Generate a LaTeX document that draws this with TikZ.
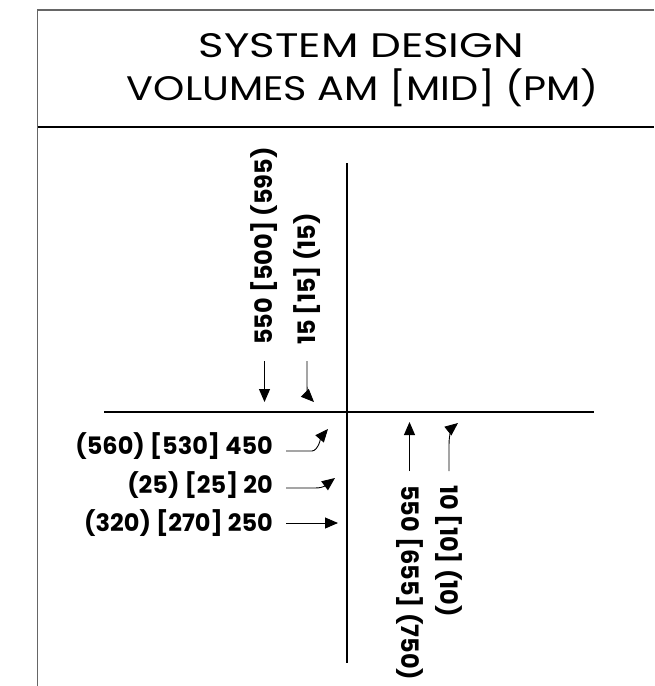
\documentclass[tikz,border=0pt]{standalone}
\usepackage{fontspec}
\setmainfont{Poppins}[Numbers=Monospaced]
\usetikzlibrary{arrows.meta, positioning}
\tikzset{
  frame/.style={draw=black!60, line width=1.3pt},
  road/.style={draw=black, line width=1.2pt},
  title/.style={font=\fontsize{34}{42}\selectfont, inner sep=0pt, anchor=base},
  vol/.style={font=\fontsize{24}{26}\selectfont\bfseries, inner sep=0pt},
  arrow/.style={-{Triangle[length=13pt, width=11pt]}, line width=0.9pt},
}

\begin{document}
\begin{tikzpicture}[x=1pt, y=-1pt]
  \useasboundingbox (0,0) rectangle (654,686);
  \draw[frame] (37.7,686) -- (37.7,10) -- (654,10);
  \draw[road] (37.7,127) -- (654,127);
  \node[title] (ttl1) at (361.5,57)  {\resizebox{325pt}{\height}{SYSTEM DESIGN}};
  \node[title] (ttl2) at (363,100)   {\resizebox{472pt}{\height}{VOLUMES AM [MID] (PM)}};

  % roads
  \coordinate (ew_w) at (104,412);
  \coordinate (ew_e) at (594,412);
  \coordinate (ns_n) at (347,163);
  \coordinate (ns_s) at (347,663);
  \draw[road] (ew_w) -- (ew_e);
  \draw[road] (ns_n) -- (ns_s);

  % volumes
  \node[vol, anchor=east] (wb1) at (273,446) {(560) [530] 450};
  \node[vol, anchor=east] (wb2) at (273,485) {(25) [25] 20};
  \node[vol, anchor=east] (wb3) at (273,523) {(320) [270] 250};
  \node[vol, rotate=90, anchor=west]  (sb1) at (264.5,345) {550 [500] (595)};
  \node[vol, rotate=90, anchor=west]  (sb2) at (307,345)   {15 [15] (15)};
  \node[vol, rotate=-90, anchor=west] (nb1) at (409.5,485) {550 [655] (750)};
  \node[vol, rotate=-90, anchor=west] (nb2) at (449,485)   {10 [10] (10)};

  \coordinate (sb1t) at (264.5,402);
  \coordinate (sb2t) at (314,402);
  \coordinate (wb1t) at (328,429);
  \coordinate (wb2t) at (335,478);
  \coordinate (wb3t) at (338,523);
  \coordinate (nb1t) at (409.5,422);
  \coordinate (nb2t) at (458,423);

  \draw[arrow] ([yshift=-16pt]sb1.west) -- (sb1t);
  \draw[arrow] ([yshift=-16pt]sb2.west) -- (307,383) .. controls (307,393) and (308,396) .. (sb2t);
  \draw[arrow] ([xshift=13pt,yshift=-5pt]wb1.east) -- (312,451) .. controls (318,451) and (322,436) .. (wb1t);
  \draw[arrow] ([xshift=13pt,yshift=-3pt]wb2.east) -- (315,488) .. controls (325,488) and (327,484) .. (wb2t);
  \draw[arrow] ([xshift=13pt]wb3.east) -- (wb3t);
  \draw[arrow] ([yshift=14pt]nb1.west) -- (nb1t);
  \draw[arrow] ([yshift=14pt]nb2.west) -- (449,445) .. controls (449,432) and (453,427) .. (nb2t);
\end{tikzpicture}
\end{document}
